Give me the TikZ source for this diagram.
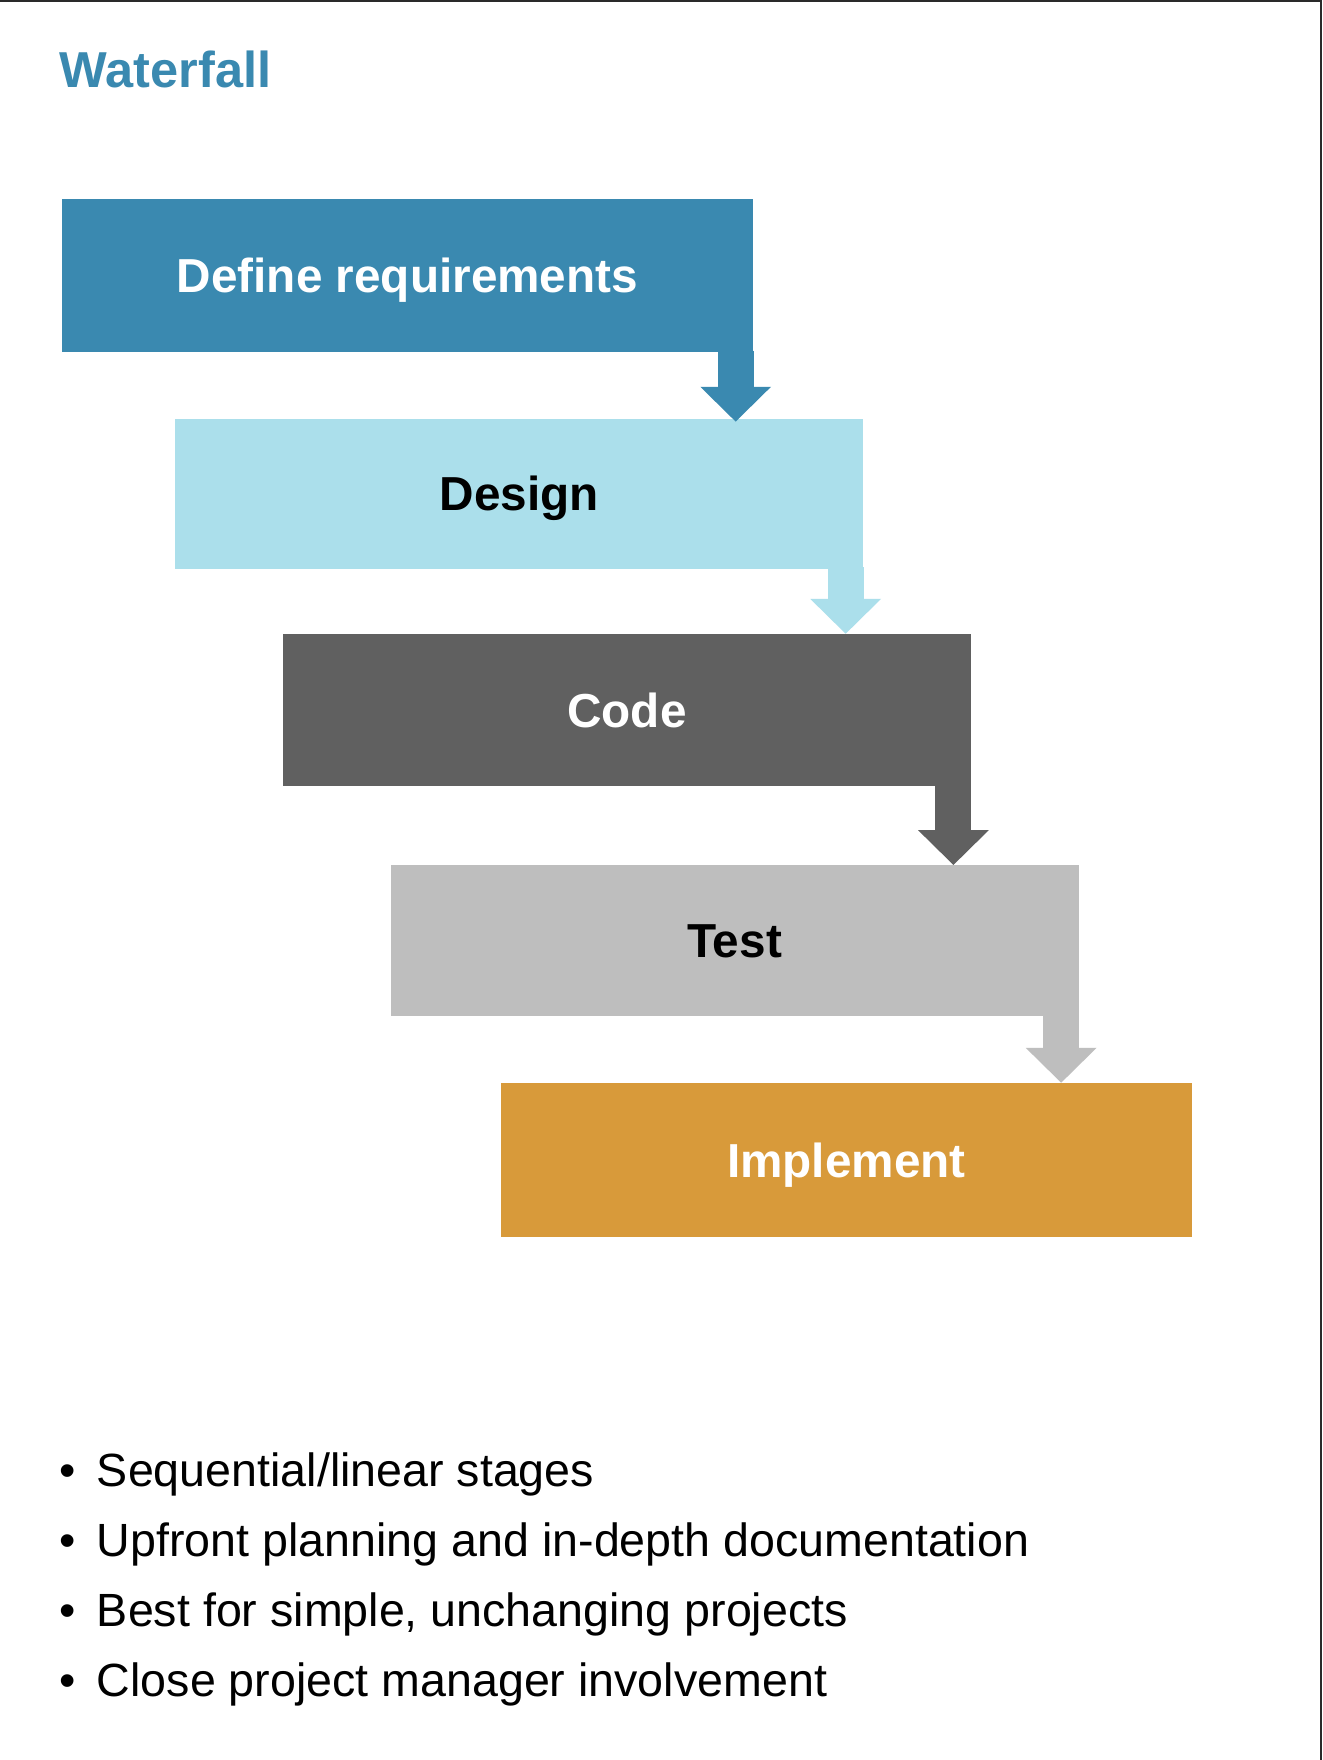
\documentclass[tikz,border=0pt]{standalone}
\usepackage{fontspec}
\setmainfont{Liberation Sans}
\usetikzlibrary{arrows.meta,calc}
\definecolor{wfblue}{HTML}{3A89B0}
\definecolor{wfcyan}{HTML}{ABDFEB}
\definecolor{wfdark}{HTML}{606060}
\definecolor{wfgrey}{HTML}{BEBEBE}
\definecolor{wforange}{HTML}{D89A3A}
\definecolor{wfframe}{HTML}{2A2A2A}
\begin{document}
\begin{tikzpicture}[x=0.5pt,y=-0.5pt,
  stage/.style={rectangle, inner sep=0pt, minimum width=306.5pt, minimum height=67.5pt,
    font=\fontsize{21.25pt}{25pt}\selectfont\bfseries, text height=15.2pt, text depth=0pt},
  flow/.style={line width=16pt, -{Triangle[width=31.5pt, length=15.5pt, line width=0pt]}},
  bullettext/.style={anchor=base west, inner sep=0pt, font=\fontsize{20.75pt}{24pt}\selectfont},
  bulletdot/.style={anchor=base, inner sep=0pt, font=\fontsize{20.75pt}{24pt}\selectfont},
  title/.style={anchor=base west, inner sep=0pt, text=wfblue, font=\fontsize{22.5pt}{26pt}\selectfont\bfseries}]
\useasboundingbox (0,0) rectangle (1178,1568);
\fill[white] (0,0) rectangle (1178,1568);
\draw[wfframe, line width=1pt] (0,1) -- (1177,1) -- (1177,1568);

\node[title] (ttl) at (53,78) {Waterfall};

\node[stage, fill=wfblue, text=white, minimum width=308pt, minimum height=68.5pt] (def) at (363,245.5) {Define requirements};
\node[stage, fill=wfcyan, text=black, minimum height=67pt] (des) at (462.5,440) {Design};
\node[stage, fill=wfdark, text=white] (cod) at (558.5,632.5) {Code};
\node[stage, fill=wfgrey, text=black, minimum height=67pt] (tst) at (654.5,838) {Test};
\node[stage, fill=wforange, text=white, minimum width=308pt, minimum height=68.5pt] (imp) at (754,1033.5) {Implement};

\coordinate (a1s) at ($(def.south east)+(-16,-2)$);
\coordinate (a1e) at ($(a1s |- des.north)+(0,3)$);
\coordinate (a2s) at ($(des.south east)+(-16,-2)$);
\coordinate (a2e) at ($(a2s |- cod.north)+(0,0)$);
\coordinate (a3s) at ($(cod.south east)+(-16,-2)$);
\coordinate (a3e) at ($(a3s |- tst.north)+(0,0)$);
\coordinate (a4s) at ($(tst.south east)+(-16,-2)$);
\coordinate (a4e) at ($(a4s |- imp.north)+(0,0)$);
\draw[flow, wfblue] (a1s) -- (a1e);
\draw[flow, wfcyan] (a2s) -- (a2e);
\draw[flow, wfdark] (a3s) -- (a3e);
\draw[flow, wfgrey] (a4s) -- (a4e);

\node[bulletdot] (b1) at (60,1324) {•};
\node[bullettext] (t1) at (86,1324) {Sequential/linear stages};
\node[bulletdot] (b2) at (60,1387) {•};
\node[bullettext] (t2) at (86,1387) {Upfront planning and in-depth documentation};
\node[bulletdot] (b3) at (60,1449) {•};
\node[bullettext] (t3) at (86,1449) {Best for simple, unchanging projects};
\node[bulletdot] (b4) at (60,1511) {•};
\node[bullettext] (t4) at (86,1511) {Close project manager involvement};
\end{tikzpicture}
\end{document}
